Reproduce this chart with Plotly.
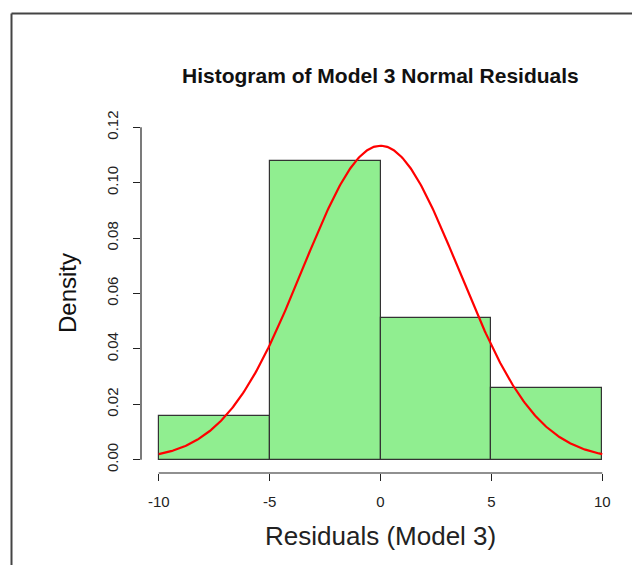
import numpy as np
import plotly.graph_objects as go

# Histogram data (density scale)
bin_edges = [-10, -5, 0, 5, 10]
densities = [0.0158, 0.108, 0.051, 0.026]
# Fitted normal curve parameters
curve_mean = 0.0
curve_sd = 3.52
x_ticks = [-10, -5, 0, 5, 10]
x_tick_labels = ["-10", "-5", "0", "5", "10"]
y_ticks = [0.00, 0.02, 0.04, 0.06, 0.08, 0.10, 0.12]
y_tick_labels = ["0.00", "0.02", "0.04", "0.06", "0.08", "0.10", "0.12"]

centers = [(a + b) / 2 for a, b in zip(bin_edges[:-1], bin_edges[1:])]
widths = [b - a for a, b in zip(bin_edges[:-1], bin_edges[1:])]

xs = np.linspace(bin_edges[0], bin_edges[-1], 401)
ys = np.exp(-0.5 * ((xs - curve_mean) / curve_sd) ** 2) / (curve_sd * np.sqrt(2 * np.pi))

FONT = "Liberation Sans, Arial, sans-serif"

fig = go.Figure()
fig.add_trace(go.Bar(x=centers, y=densities, width=widths,
                     marker=dict(color="#90EE90", line=dict(color="#333333", width=1.2)),
                     showlegend=False, hoverinfo="skip"))
fig.add_trace(go.Scatter(x=xs, y=ys, mode="lines",
                         line=dict(color="#FF0000", width=2.2), showlegend=False))

W, H = 632, 565
L, R, T, B = 141, 12, 114, 92
pw, ph = W - L - R, H - T - B

def px_x(p):
    return (p - L) / pw

def px_y(p):
    return (H - B - p) / ph

shapes = [
    # R-style axis lines spanning tick range only
    dict(type="line", xref="x", yref="paper", x0=x_ticks[0], x1=x_ticks[-1], y0=0, y1=0,
         line=dict(color="#222222", width=1.2)),
    dict(type="line", xref="paper", yref="y", x0=0, x1=0, y0=y_ticks[0], y1=y_ticks[-1],
         line=dict(color="#222222", width=1.2)),
    # outer frame (top and left edges)
    dict(type="line", xref="paper", yref="paper", x0=px_x(11.5), x1=px_x(640),
         y0=px_y(13.5), y1=px_y(13.5), line=dict(color="#444444", width=2)),
    dict(type="line", xref="paper", yref="paper", x0=px_x(11.5), x1=px_x(11.5),
         y0=px_y(13.5), y1=px_y(570), line=dict(color="#444444", width=2)),
]

annotations = [
    dict(text="<b>Histogram of Model 3 Normal Residuals</b>", xref="paper", yref="paper",
         x=0.5, y=px_y(75), xanchor="center", yanchor="middle", showarrow=False,
         font=dict(family=FONT, size=21, color="#111111")),
    dict(text="Residuals (Model 3)", xref="paper", yref="paper",
         x=0.5, y=px_y(536), xanchor="center", yanchor="middle", showarrow=False,
         font=dict(family=FONT, size=26, color="#222222")),
    dict(text="Density", xref="paper", yref="paper", textangle=-90,
         x=px_x(67), y=px_y(293), xanchor="center", yanchor="middle", showarrow=False,
         font=dict(family=FONT, size=24, color="#111111")),
]

fig.update_layout(
    width=W, height=H,
    margin=dict(l=L, r=R, t=T, b=B, pad=0),
    paper_bgcolor="white", plot_bgcolor="white",
    bargap=0,
    shapes=shapes, annotations=annotations,
    xaxis=dict(range=[-10.8, 10.8], tickvals=x_ticks, ticktext=x_tick_labels,
               ticks="outside", ticklen=7,
               tickcolor="#222222", tickwidth=1.2, showline=False, showgrid=False,
               zeroline=False, tickfont=dict(family=FONT, size=15, color="#222222"),
               ticklabelstandoff=8),
    yaxis=dict(range=[-0.0048, 0.1248], tickvals=y_ticks, ticktext=y_tick_labels,
               ticks="outside", ticklen=7, tickcolor="#222222", tickwidth=1.2,
               showline=False, showgrid=False, zeroline=False, tickangle=-90,
               tickfont=dict(family=FONT, size=15, color="#222222"),
               ticklabelstandoff=9),
)

fig.write_html("out.html")
